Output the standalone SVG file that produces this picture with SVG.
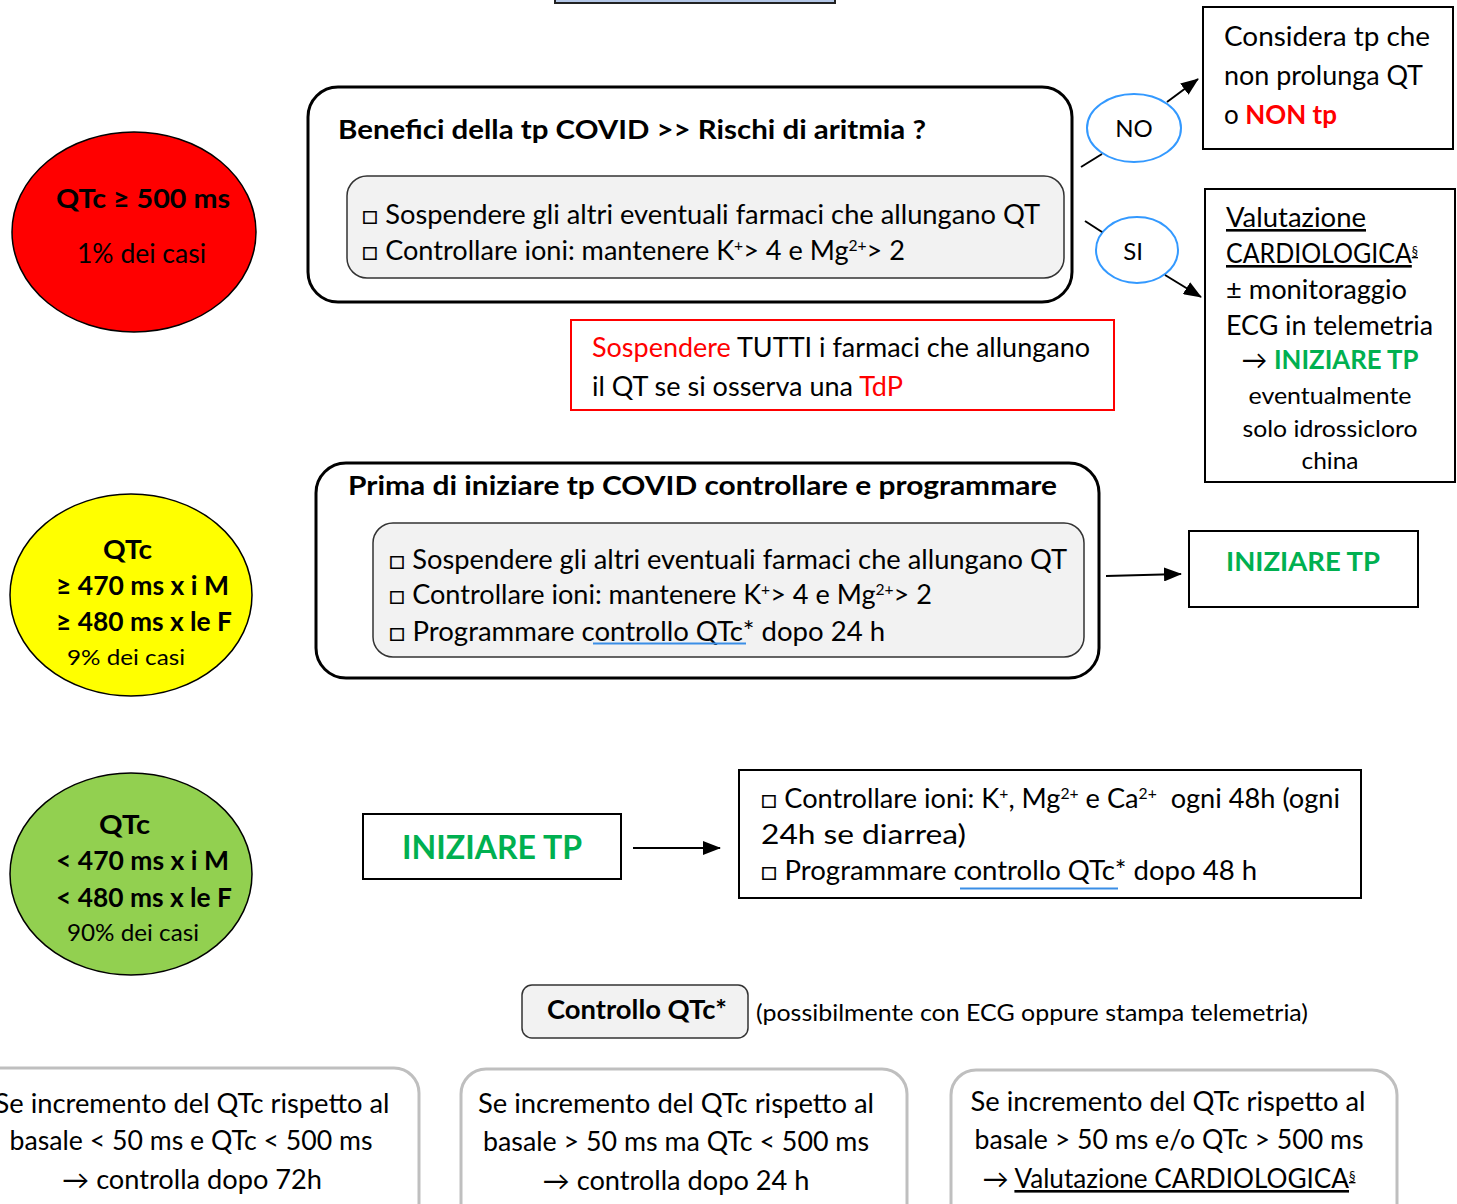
<svg xmlns="http://www.w3.org/2000/svg" width="1457" height="1204" viewBox="0 0 1457 1204">
<defs>
<marker id="ah" markerUnits="userSpaceOnUse" markerWidth="18" markerHeight="14" refX="17" refY="7" orient="auto">
<path d="M0,0 L18,7 L0,14 z" fill="#000"/>
</marker>
<style>
text{font-family:Lato,"Open Sans","Noto Sans",sans-serif;fill:#000;}
.t26{font-size:26px;}
.t24{font-size:24px;}
.b{font-weight:bold;}
.red{fill:#ff0000;}
.grn{fill:#00b050;}
.sup{font-size:15px;}
.sec{font-size:13px;}
.box{fill:#fff;stroke:#000;stroke-width:2;}
.rbox{fill:#fff;stroke:#000;stroke-width:3;}
.inner{fill:#f2f2f2;stroke:#333;stroke-width:1.5;}
.gbox{fill:#fff;stroke:#bfbfbf;stroke-width:3;}
.oval{fill:#fff;stroke:#3399ff;stroke-width:2;}
.ell{stroke:#000;stroke-width:1.5;}
.conn{stroke:#000;stroke-width:2;fill:none;}
.ul{stroke:#3a8ee6;stroke-width:1.8;}
</style>
</defs>

<g id="top-box">
<rect x="555" y="-20" width="280" height="23" fill="#b4c7e7" stroke="#222" stroke-width="2"/>
</g>

<g id="red-ellipse">
<ellipse cx="134" cy="232" rx="122" ry="100" fill="#ff0000" class="ell"/>
<text x="56" y="208" class="b" font-size="27" textLength="174" lengthAdjust="spacingAndGlyphs">QTc ≥ 500 ms</text>
<text x="77" y="263" class="t26" textLength="129" lengthAdjust="spacingAndGlyphs">1% dei casi</text>
</g>

<g id="box-benefici">
<rect x="308" y="87" width="764" height="215" rx="30" class="rbox"/>
<text x="338" y="139" class="b" font-size="27" textLength="588" lengthAdjust="spacingAndGlyphs">Benefici della tp COVID &gt;&gt; Rischi di aritmia ?</text>
<rect x="347" y="176" width="717" height="102" rx="20" class="inner"/>
<text x="362" y="224" class="t26" textLength="678" lengthAdjust="spacingAndGlyphs">□ Sospendere gli altri eventuali farmaci che allungano QT</text>
<text x="362" y="260" class="t26" textLength="543" lengthAdjust="spacingAndGlyphs">□ Controllare ioni: mantenere K<tspan class="sup" baseline-shift="super">+</tspan>&gt; 4 e Mg<tspan class="sup" baseline-shift="super">2+</tspan>&gt; 2</text>
</g>

<g id="node-no">
<ellipse cx="1134" cy="128" rx="47" ry="34" class="oval"/>
<text x="1134" y="137" class="t24" text-anchor="middle">NO</text>
</g>

<g id="node-si">
<ellipse cx="1137" cy="250" rx="41" ry="33" class="oval"/>
<text x="1133" y="260" class="t24" text-anchor="middle">SI</text>
</g>

<g id="box-considera">
<rect x="1203" y="7" width="250" height="142" class="box"/>
<text x="1224" y="46" class="t26" textLength="206" lengthAdjust="spacingAndGlyphs">Considera  tp che</text>
<text x="1224" y="85" class="t26" textLength="199" lengthAdjust="spacingAndGlyphs">non prolunga QT</text>
<text x="1224" y="124" class="t26" textLength="113" lengthAdjust="spacingAndGlyphs">o <tspan class="red b">NON tp</tspan></text>
</g>

<g id="box-valutazione">
<rect x="1205" y="189" width="250" height="293" class="box"/>
<text x="1226" y="227" class="t26" text-decoration="underline" textLength="140" lengthAdjust="spacingAndGlyphs">Valutazione</text>
<text x="1226" y="263" class="t26" text-decoration="underline" textLength="192" lengthAdjust="spacingAndGlyphs">CARDIOLOGICA<tspan class="sec" baseline-shift="7">§</tspan></text>
<text x="1226" y="299" class="t26" textLength="181" lengthAdjust="spacingAndGlyphs">± monitoraggio</text>
<text x="1226" y="335" class="t26" textLength="207" lengthAdjust="spacingAndGlyphs">ECG in telemetria</text>
<text x="1330" y="369" class="t26" text-anchor="middle" textLength="177" lengthAdjust="spacingAndGlyphs">→ <tspan class="grn b">INIZIARE TP</tspan></text>
<text x="1330" y="404" class="t24" text-anchor="middle" textLength="163" lengthAdjust="spacingAndGlyphs">eventualmente</text>
<text x="1330" y="437" class="t24" text-anchor="middle" textLength="175" lengthAdjust="spacingAndGlyphs">solo idrossicloro</text>
<text x="1330" y="469" class="t24" text-anchor="middle" textLength="57" lengthAdjust="spacingAndGlyphs">china</text>
</g>

<g id="box-tdp">
<rect x="571" y="320" width="543" height="90" fill="#fff" stroke="#ff0000" stroke-width="2"/>
<text x="592" y="357" class="t26" textLength="498" lengthAdjust="spacingAndGlyphs"><tspan class="red">Sospendere</tspan> TUTTI i farmaci che allungano</text>
<text x="592" y="396" class="t26" textLength="311" lengthAdjust="spacingAndGlyphs">il QT se si osserva una <tspan class="red">TdP</tspan></text>
</g>

<g id="yellow-ellipse">
<ellipse cx="131" cy="595" rx="121" ry="101" fill="#ffff00" class="ell"/>
<text x="103" y="559" class="b" font-size="26" textLength="49" lengthAdjust="spacingAndGlyphs">QTc</text>
<text x="56" y="595" class="b" font-size="26" textLength="173" lengthAdjust="spacingAndGlyphs">≥ 470 ms x i M</text>
<text x="56" y="631" class="b" font-size="26" textLength="176" lengthAdjust="spacingAndGlyphs">≥ 480 ms x le F</text>
<text x="67" y="665" font-size="22" textLength="118" lengthAdjust="spacingAndGlyphs">9% dei casi</text>
</g>

<g id="box-prima">
<rect x="316" y="463" width="783" height="215" rx="30" class="rbox"/>
<text x="348" y="495" class="b" font-size="27" textLength="709" lengthAdjust="spacingAndGlyphs">Prima di iniziare tp COVID controllare e programmare</text>
<rect x="373" y="523" width="711" height="134" rx="20" class="inner"/>
<text x="389" y="569" class="t26" textLength="678" lengthAdjust="spacingAndGlyphs">□ Sospendere gli altri eventuali farmaci che allungano QT</text>
<text x="389" y="604" class="t26" textLength="543" lengthAdjust="spacingAndGlyphs">□ Controllare ioni: mantenere K<tspan class="sup" baseline-shift="super">+</tspan>&gt; 4 e Mg<tspan class="sup" baseline-shift="super">2+</tspan>&gt; 2</text>
<text x="389" y="641" class="t26" textLength="496" lengthAdjust="spacingAndGlyphs">□ Programmare controllo QTc* dopo 24 h</text>
<line x1="593" y1="643.5" x2="746" y2="643.5" class="ul"/>
</g>

<g id="box-iniziare-1">
<rect x="1189" y="531" width="229" height="76" class="box"/>
<text x="1303" y="571" class="b grn" font-size="27" text-anchor="middle" textLength="154" lengthAdjust="spacingAndGlyphs">INIZIARE TP</text>
</g>

<g id="green-ellipse">
<ellipse cx="131" cy="874" rx="121" ry="101" fill="#92d050" class="ell"/>
<text x="99" y="834" class="b" font-size="26" textLength="51" lengthAdjust="spacingAndGlyphs">QTc</text>
<text x="56" y="870" class="b" font-size="26" textLength="173" lengthAdjust="spacingAndGlyphs">&lt; 470 ms x i M</text>
<text x="56" y="907" class="b" font-size="26" textLength="176" lengthAdjust="spacingAndGlyphs">&lt; 480 ms x le F</text>
<text x="67" y="941" font-size="23" textLength="132" lengthAdjust="spacingAndGlyphs">90% dei casi</text>
</g>

<g id="box-iniziare-2">
<rect x="363" y="814" width="258" height="65" class="box"/>
<text x="492" y="859" class="b grn" font-size="32" text-anchor="middle" textLength="180" lengthAdjust="spacingAndGlyphs">INIZIARE TP</text>
</g>

<g id="box-controlli">
<rect x="739" y="770" width="622" height="128" class="box"/>
<text x="761" y="808" class="t26" textLength="579" lengthAdjust="spacingAndGlyphs" xml:space="preserve">□ Controllare ioni: K<tspan class="sup" baseline-shift="super">+</tspan>, Mg<tspan class="sup" baseline-shift="super">2+</tspan> e Ca<tspan class="sup" baseline-shift="super">2+</tspan>  ogni 48h (ogni</text>
<text x="761" y="844" class="t26" textLength="205" lengthAdjust="spacingAndGlyphs">24h se diarrea)</text>
<text x="761" y="880" class="t26" textLength="496" lengthAdjust="spacingAndGlyphs">□ Programmare controllo QTc* dopo 48 h</text>
<line x1="960" y1="888.5" x2="1118" y2="888.5" class="ul"/>
</g>

<g id="box-controllo-qtc">
<rect x="522" y="985" width="226" height="53" rx="10" class="inner"/>
<text x="637" y="1019" class="b" font-size="26" text-anchor="middle" textLength="180" lengthAdjust="spacingAndGlyphs">Controllo QTc*</text>
<text x="756" y="1021" class="t24" textLength="552" lengthAdjust="spacingAndGlyphs">(possibilmente con ECG oppure stampa telemetria)</text>
</g>

<g id="box-esito-1">
<rect x="-30" y="1068" width="449" height="160" rx="25" class="gbox"/>
<text x="192" y="1113" class="t26" text-anchor="middle" textLength="395" lengthAdjust="spacingAndGlyphs">Se incremento del QTc rispetto al</text>
<text x="191" y="1150" class="t26" text-anchor="middle" textLength="363" lengthAdjust="spacingAndGlyphs">basale &lt; 50 ms e QTc &lt; 500 ms</text>
<text x="192" y="1189" class="t26" text-anchor="middle" textLength="260" lengthAdjust="spacingAndGlyphs">→ controlla dopo 72h</text>
</g>

<g id="box-esito-2">
<rect x="461" y="1069" width="446" height="160" rx="25" class="gbox"/>
<text x="676" y="1113" class="t26" text-anchor="middle" textLength="396" lengthAdjust="spacingAndGlyphs">Se incremento del QTc rispetto al</text>
<text x="676" y="1151" class="t26" text-anchor="middle" textLength="386" lengthAdjust="spacingAndGlyphs">basale &gt; 50 ms ma QTc &lt; 500 ms</text>
<text x="676" y="1190" class="t26" text-anchor="middle" textLength="267" lengthAdjust="spacingAndGlyphs">→ controlla dopo 24 h</text>
</g>

<g id="box-esito-3">
<rect x="951" y="1070" width="446" height="160" rx="25" class="gbox"/>
<text x="1168" y="1111" class="t26" text-anchor="middle" textLength="395" lengthAdjust="spacingAndGlyphs">Se incremento del QTc rispetto al</text>
<text x="1169" y="1149" class="t26" text-anchor="middle" textLength="389" lengthAdjust="spacingAndGlyphs">basale &gt; 50 ms e/o QTc &gt; 500 ms</text>
<text x="1169" y="1188" class="t26" text-anchor="middle" textLength="373" lengthAdjust="spacingAndGlyphs">→ <tspan text-decoration="underline">Valutazione CARDIOLOGICA<tspan class="sec" baseline-shift="7">§</tspan></tspan></text>
</g>

<g id="connectors">
<line x1="1081" y1="167" x2="1102" y2="154" class="conn"/>
<line x1="1167" y1="102" x2="1198" y2="79" class="conn" marker-end="url(#ah)"/>
<line x1="1085" y1="221" x2="1102" y2="232" class="conn"/>
<line x1="1165" y1="275" x2="1201" y2="297" class="conn" marker-end="url(#ah)"/>
<line x1="1106" y1="576" x2="1181" y2="574" class="conn" marker-end="url(#ah)"/>
<line x1="633" y1="848" x2="720" y2="848" class="conn" marker-end="url(#ah)"/>
</g>
</svg>
